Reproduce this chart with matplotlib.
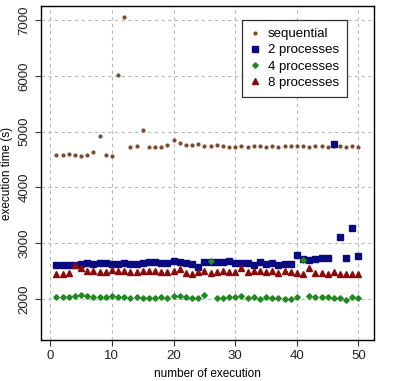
import numpy as np
import matplotlib
matplotlib.use("Agg")
import matplotlib.pyplot as plt

plt.rcParams['font.family'] = ['Liberation Sans', 'DejaVu Sans']

runs = np.arange(1, 51)

sequential = [4585, 4585, 4603, 4585, 4567, 4585, 4639, 4930, 4580, 4567,
              6010, 7047, 4728, 4740, 5038, 4734, 4722, 4722, 4770, 4847,
              4805, 4770, 4770, 4782, 4746, 4746, 4758, 4740, 4734, 4734,
              4740, 4734, 4740, 4740, 4734, 4740, 4734, 4740, 4740, 4746,
              4740, 4734, 4752, 4740, 4734, 4740, 4740, 4734, 4740, 4734]

# read from zoomed pixel rows: value = 2000 + (357 - row) * 5.99
procs2_rows = [254, 254, 254, 254, 252, 248, 252, 248, 250, 252,
               253, 248, 253, 253, 250, 246, 245, 250, 248, 244,
               247, 250, 253, 261, 245, 245, 246, 245, 242, 250,
               250, 248, 254, 246, 252, 248, 254, 252, 252, 225,
               238, 240, 237, 235, 233, None, 170, 235, 145, 228]
procs4_rows = [351, 351, 351, 349, 346, 349, 350, 350, 350, 348,
               350, 350, 353, 352, 355, 354, 354, 352, 355, 349,
               348, 350, 353, 354, 344, 244, 354, 354, 352, 352,
               349, 355, 352, 356, 352, 355, 355, 356, 356, 352,
               241, 347, 350, 352, 350, 355, 355, 360, 352, 354]
procs8_rows = [282, 283, 279, 255, 265, 272, 274, 275, 275, 270,
               274, 274, 275, 275, 274, 272, 273, 276, 276, 274,
               268, 280, 282, 276, 274, 280, 277, 272, 275, 275,
               265, 276, 272, 273, 276, 273, 278, 274, 277, 278,
               283, 264, 278, 280, 283, 277, 282, 283, 281, 281]


def rows_to_values(rows):
    return [2000 + (357 - r) * 5.99 for r in rows]


procs2 = rows_to_values([r if r is not None else 357 - 2760 / 5.99 for r in procs2_rows])
procs2[45] = 4775  # run 46 outlier
procs4 = rows_to_values(procs4_rows)
procs8 = rows_to_values(procs8_rows)

fig = plt.figure(figsize=(3.94, 3.81), dpi=100)
ax = fig.add_axes([0.104, 0.108, 0.845, 0.876])

ax.grid(True, color='#b8b8b8', linestyle=(0, (3, 3)), linewidth=0.8)
ax.set_axisbelow(True)

ax.plot(runs, sequential, linestyle='none', marker='o', markersize=2.0,
        color='#7f4a2a', label='sequential')
ax.plot(runs, procs2, linestyle='none', marker='s', markersize=4.6,
        color='#0a0a80', label='2 processes')
ax.plot(runs, procs4, linestyle='none', marker='D', markersize=2.8,
        color='#1f8a1f', label='4 processes')
ax.plot(runs, procs8, linestyle='none', marker='^', markersize=5,
        color='#8b0a0a', label='8 processes')

ax.set_xlim(-1.5, 52.5)
ax.set_ylim(1270, 7250)
ax.set_xticks([0, 10, 20, 30, 40, 50])
ax.set_yticks([2000, 3000, 4000, 5000, 6000, 7000])
ax.tick_params(axis='both', labelsize=9.5, length=4, color='#333333',
               labelcolor='#222222')
for lab in ax.get_yticklabels():
    lab.set_rotation(90)
    lab.set_va('center')

for s in ax.spines.values():
    s.set_linewidth(1.0)

ax.set_xlabel('number of execution', fontsize=8.5, labelpad=4)
ax.set_ylabel('execution time (s)', fontsize=8.5, labelpad=4)

leg = ax.legend(loc='upper right', bbox_to_anchor=(0.919, 0.958), fontsize=9.5,
                frameon=True, fancybox=False, edgecolor='black',
                handlelength=0.8, handletextpad=0.6, borderpad=0.6,
                borderaxespad=0, labelspacing=0.3, markerscale=1.0)
leg.get_frame().set_linewidth(0.9)

fig.savefig('out.png', dpi=100)
